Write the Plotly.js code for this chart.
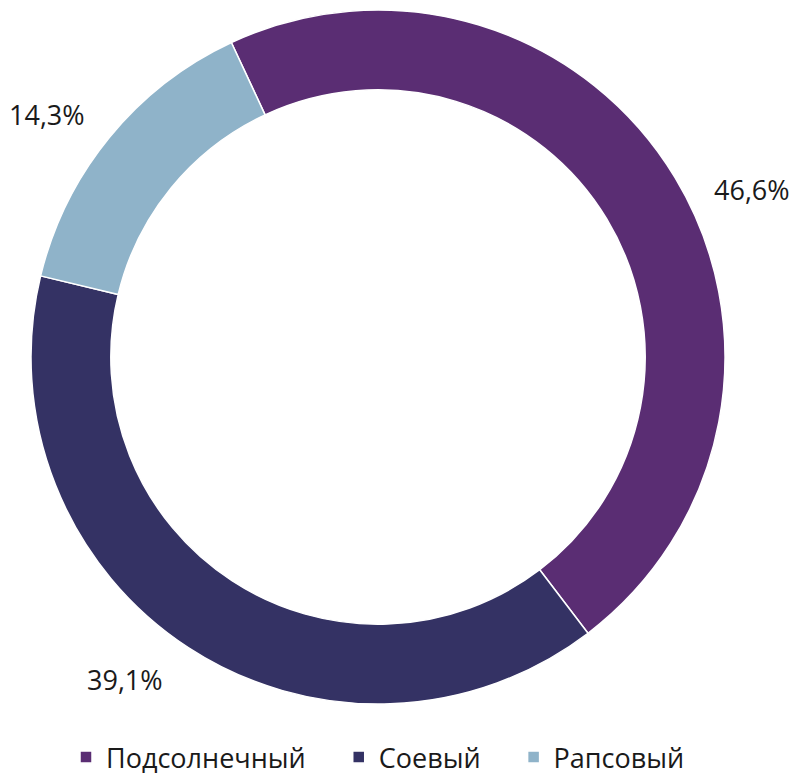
<!DOCTYPE html>
<html>
<head>
<meta charset="utf-8">
<script src="https://cdn.plot.ly/plotly-3.0.1.min.js"></script>
<style>html,body{margin:0;padding:0;background:#fff;}#chart{width:797px;height:776px;}</style>
</head>
<body>
<div id="chart"></div>
<script>
var categories = ['Подсолнечный', 'Соевый', 'Рапсовый'];
var shares = [46.6, 39.1, 14.3];
var colors = ['#5a2d73', '#343264', '#8fb3c9'];

var W = 797, H = 776;
var margin = {l: 31, r: 72, t: 10, b: 72, autoexpand: false};
var plotW = W - margin.l - margin.r, plotH = H - margin.t - margin.b;
var rotation = -25;
var labelDist = 410;
var labelShift = [7, 5, -3];

var total = shares.reduce(function(a, b){ return a + b; }, 0);
var annotations = [];
var cum = 0;
for (var i = 0; i < shares.length; i++) {
  var mid = rotation + (cum + shares[i] / 2) / total * 360 + labelShift[i];
  cum += shares[i];
  var a = mid * Math.PI / 180;
  var px = plotW / 2 + labelDist * Math.sin(a);
  var py = plotH / 2 - labelDist * Math.cos(a);
  annotations.push({
    xref: 'paper', yref: 'paper',
    x: px / plotW, y: 1 - py / plotH,
    xanchor: 'center', yanchor: 'middle',
    showarrow: false,
    text: shares[i].toFixed(1).replace('.', ',') + '%',
    font: {family: 'Open Sans', size: 27, color: '#1a1a1a'}
  });
}

var pad = '\u00a0\u00a0\u00a0\u00a0';
var data = [{
  type: 'pie',
  labels: categories.map(function(c, k){ return k < categories.length - 1 ? c + pad : c; }),
  values: shares,
  hole: 0.77,
  sort: false,
  direction: 'clockwise',
  rotation: rotation,
  textinfo: 'none',
  hoverinfo: 'label+percent',
  marker: {colors: colors, line: {color: '#ffffff', width: 1.5}}
}];

var layout = {
  width: W, height: H,
  margin: margin,
  paper_bgcolor: '#ffffff',
  plot_bgcolor: '#ffffff',
  showlegend: true,
  legend: {
    orientation: 'h',
    x: 0.5, xanchor: 'center',
    y: -(margin.b + 6) / plotH, yanchor: 'bottom',
    font: {family: 'Open Sans', size: 27, color: '#1a1a1a'},
    traceorder: 'normal'
  },
  annotations: annotations,
  separators: ', '
};

Plotly.newPlot('chart', data, layout, {displayModeBar: false, staticPlot: true});
</script>
</body>
</html>
